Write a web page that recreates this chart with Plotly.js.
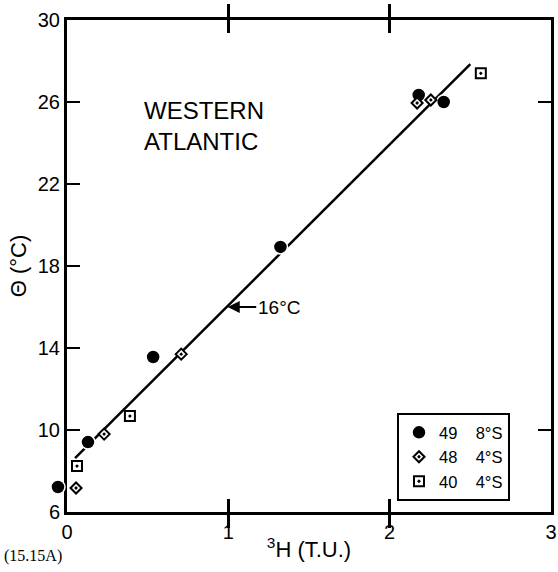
<!DOCTYPE html>
<html>
<head>
<meta charset="utf-8">
<script src="https://cdn.plot.ly/plotly-3.0.1.min.js"></script>
<style>html,body{margin:0;padding:0;background:#fff;}</style>
</head>
<body>
<div id="chart" style="width:558px;height:572px;"></div>
<script>
// Station 49, 8°S (filled circles)
const st49X = [-0.056, 0.13, 0.534, 1.323, 2.18, 2.335];
const st49Y = [7.22, 9.41, 13.56, 18.93, 26.34, 26.0];
// Station 48, 4°S (diamonds)
const st48X = [0.056, 0.23, 0.708, 2.17, 2.255];
const st48Y = [7.17, 9.8, 13.7, 25.95, 26.1];
// Station 40, 4°S (squares)
const st40X = [0.062, 0.39, 2.565];
const st40Y = [8.24, 10.68, 27.4];
// fitted line
const fitX = [0.05, 2.50];
const fitY = [8.63, 27.85];
// ticks
const xTicks = [0, 1, 2, 3];
const yTicks = [6, 10, 14, 18, 22, 26, 30];
const yRightTicks = [10, 26];
const legendNames = ["49\u00a0\u00a0\u00a0 8°S", "48\u00a0\u00a0\u00a0 4°S", "40\u00a0\u00a0\u00a0 4°S"];

const FONT = "Liberation Sans, Arial, sans-serif";

// geometry: the framed axes start 27px right of the plotting area so that
// the data axis (x2) can show a point just left of T.U. = 0 at the same scale.
const W = 558, H = 572, ML = 40, MR = 7, MT = 20, MB = 60;
const areaW = W - ML - MR;          // 511
const frameOffset = 27;             // px between area left and frame left
const d0 = frameOffset / areaW;
const xMax = xTicks[xTicks.length - 1];
const pxPerUnit = (areaW - frameOffset) / xMax;
const x2Min = -frameOffset / pxPerUnit;

const traces = [
  {x: fitX, y: fitY, xaxis: 'x2', mode: 'lines', line: {color: '#000', width: 2.5}, showlegend: false, hoverinfo: 'skip', cliponaxis: false},
  {x: st49X, y: st49Y, xaxis: 'x2', mode: 'markers', name: legendNames[0], cliponaxis: false,
   marker: {symbol: 'circle', size: 14, color: '#000', line: {color: '#fff', width: 1.5}}},
  {x: st48X, y: st48Y, xaxis: 'x2', mode: 'markers', name: legendNames[1], cliponaxis: false,
   marker: {symbol: 'diamond-dot', size: 8.5, color: '#fff', line: {color: '#000', width: 2}}},
  {x: st40X, y: st40Y, xaxis: 'x2', mode: 'markers', name: legendNames[2], cliponaxis: false,
   marker: {symbol: 'square-dot', size: 10, color: '#fff', line: {color: '#000', width: 2}}},
  {x: [], y: [], xaxis: 'x', yaxis: 'y', showlegend: false, hoverinfo: 'skip'},
  {x: [], y: [], xaxis: 'x', yaxis: 'y2', showlegend: false, hoverinfo: 'skip'}
];

const layout = {
  width: W, height: H,
  margin: {l: ML, r: MR, t: MT, b: MB, pad: 0},
  paper_bgcolor: '#fff', plot_bgcolor: 'rgba(0,0,0,0)',
  font: {family: FONT, color: '#000', size: 19},
  showlegend: true,
  legend: {
    x: (397 - ML) / areaW, y: 0.201, xanchor: 'left', yanchor: 'top',
    bordercolor: '#000', borderwidth: 2, bgcolor: '#fff',
    font: {family: FONT, size: 16.5, color: '#000'},
    itemwidth: 30, tracegroupgap: 0
  },
  xaxis: {
    domain: [d0, 1],
    range: [0, xMax], tickvals: xTicks, ticktext: xTicks.map(String),
    showgrid: false, zeroline: false,
    showline: true, linewidth: 3, linecolor: '#000', mirror: 'allticks',
    ticks: 'inside', ticklen: 13, tickwidth: 2.5, tickcolor: '#000',
    tickfont: {family: FONT, size: 20},
    title: {text: '<sup>3</sup>H (T.U.)', font: {family: FONT, size: 22}, standoff: 0}
  },
  xaxis2: {
    domain: [0, 1], anchor: 'y',
    range: [x2Min, xMax], visible: false,
    showgrid: false, zeroline: false
  },
  yaxis: {
    range: [6, 30], tickvals: yTicks, ticktext: yTicks.map(String), anchor: 'x',
    showgrid: false, zeroline: false,
    showline: true, linewidth: 3, linecolor: '#000', mirror: true,
    ticks: 'inside', ticklen: 13, tickwidth: 2.5, tickcolor: '#000',
    tickfont: {family: FONT, size: 20},
    title: {text: 'Θ (°C)', font: {family: FONT, size: 22}, standoff: 6}
  },
  yaxis2: {
    range: [6, 30], overlaying: 'y', side: 'right', anchor: 'x',
    tickvals: yRightTicks, showticklabels: false,
    showgrid: false, zeroline: false, showline: false,
    ticks: 'inside', ticklen: 13, tickwidth: 2.5, tickcolor: '#000'
  },
  annotations: [
    {x: 0.99, y: 16, xref: 'x', yref: 'y', text: '16°C', showarrow: true,
     ax: 52, ay: 0, arrowhead: 2, arrowsize: 1.2, arrowwidth: 2, arrowcolor: '#000',
     standoff: 1, font: {family: FONT, size: 19, color: '#000'}},
    {x: (142 - ML) / areaW, y: 0.785, xref: 'paper', yref: 'paper', xanchor: 'left', yanchor: 'middle',
     align: 'left', text: 'WESTERN<br>ATLANTIC', showarrow: false,
     font: {family: FONT, size: 24, color: '#000'}},
    {x: (2 - ML) / areaW, y: -0.0894, xref: 'paper', yref: 'paper', xanchor: 'left', yanchor: 'middle',
     text: '(15.15A)', showarrow: false,
     font: {family: 'Liberation Serif, Times New Roman, serif', size: 16, color: '#000'}}
  ]
};

Plotly.newPlot('chart', traces, layout, {displayModeBar: false, staticPlot: true});
</script>
</body>
</html>
